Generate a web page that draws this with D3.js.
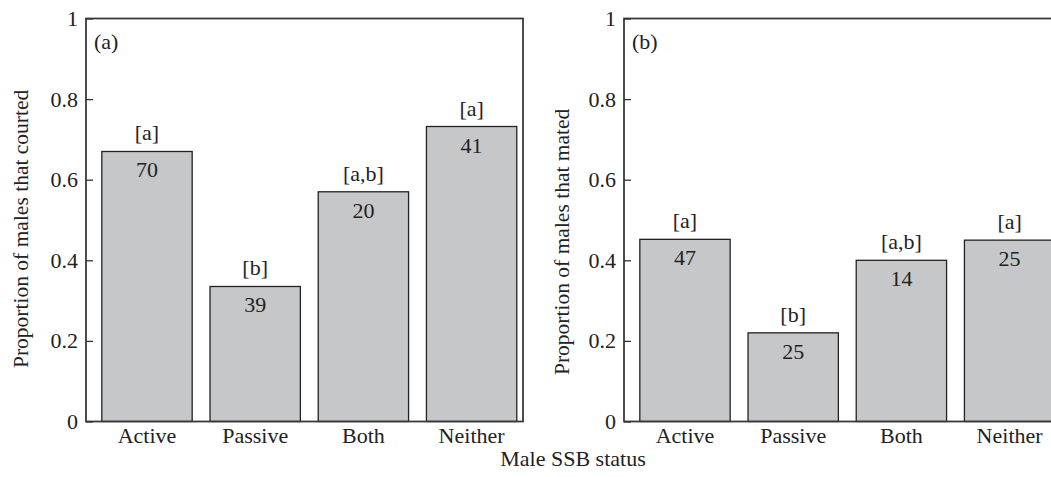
<!DOCTYPE html>
<html>
<head>
<meta charset="utf-8">
<script src="https://cdn.jsdelivr.net/npm/d3@7"></script>
<style>
  body { margin: 0; background: #fff; }
  svg { display: block; }
  text { font-family: "Liberation Serif", "DejaVu Serif", serif; fill: #222; }
</style>
</head>
<body>
<svg id="chart" width="1051" height="477"></svg>
<script>
// data
var categories = ["Active", "Passive", "Both", "Neither"];
var courted = [0.67, 0.335, 0.57, 0.732];
var courtedN = [70, 39, 20, 41];
var courtedGroups = ["[a]", "[b]", "[a,b]", "[a]"];
var mated = [0.452, 0.22, 0.40, 0.45];
var matedN = [47, 25, 14, 25];
var matedGroups = ["[a]", "[b]", "[a,b]", "[a]"];
var yTicks = [0, 0.2, 0.4, 0.6, 0.8, 1];
var yTickLabels = ["0", "0.2", "0.4", "0.6", "0.8", "1"];

var svg = d3.select("#chart");
var fs = 22;

function panel(axisX, values, counts, groups, tag, title, titleX, titleStart) {
  var w = 437;
  var y = d3.scaleLinear().domain([0, 1]).range([421.5, 18.5]);
  var x = d3.scaleBand()
    .domain(categories)
    .range([axisX + 5, axisX + 441.6])
    .paddingInner(0.165)
    .paddingOuter(0.1);

  var g = svg.append("g");

  // bars
  g.selectAll("rect.bar")
    .data(categories)
    .enter().append("rect")
    .attr("class", "bar")
    .attr("x", function(d) { return x(d); })
    .attr("width", x.bandwidth())
    .attr("y", function(d, i) { return y(values[i]); })
    .attr("height", function(d, i) { return y(0) - y(values[i]); })
    .attr("fill", "#c6c7c9")
    .attr("stroke", "#222")
    .attr("stroke-width", 1.3);

  // frame
  g.append("rect")
    .attr("x", axisX).attr("y", y(1))
    .attr("width", w).attr("height", y(0) - y(1))
    .attr("fill", "none")
    .attr("stroke", "#3a3a3a")
    .attr("stroke-width", 1.8);

  // y axis, ticks pointing inward
  var yAxis = d3.axisLeft(y)
    .tickValues(yTicks)
    .tickSize(-7)
    .tickPadding(8)
    .tickFormat(function(d, i) { return yTickLabels[i]; });
  var ya = g.append("g").attr("transform", "translate(" + axisX + ",0)").call(yAxis);
  ya.select(".domain").remove();
  ya.selectAll("line").attr("stroke", "#333").attr("stroke-width", 1.3);
  ya.selectAll("text")
    .style("font-family", '"Liberation Serif", serif')
    .style("font-size", fs + "px").attr("fill", "#222");

  // x axis labels
  var xAxis = d3.axisBottom(x).tickSize(0).tickPadding(6);
  var xa = g.append("g").attr("transform", "translate(0," + y(0) + ")").call(xAxis);
  xa.select(".domain").remove();
  xa.selectAll("text")
    .style("font-family", '"Liberation Serif", serif')
    .style("font-size", fs + "px").attr("fill", "#222");

  // sample sizes inside bars
  g.selectAll("text.n")
    .data(categories)
    .enter().append("text")
    .attr("class", "n")
    .attr("x", function(d) { return x(d) + x.bandwidth() / 2; })
    .attr("y", function(d, i) { return y(values[i]) + 26; })
    .attr("text-anchor", "middle")
    .style("font-size", fs + "px")
    .text(function(d, i) { return counts[i]; });

  // significance groups above bars
  g.selectAll("text.grp")
    .data(categories)
    .enter().append("text")
    .attr("class", "grp")
    .attr("x", function(d) { return x(d) + x.bandwidth() / 2; })
    .attr("y", function(d, i) { return y(values[i]) - 11; })
    .attr("text-anchor", "middle")
    .style("font-size", fs + "px")
    .text(function(d, i) { return groups[i]; });

  // panel tag
  g.append("text")
    .attr("x", axisX + 8).attr("y", y(1) + 30)
    .style("font-size", fs + "px")
    .text(tag);

  // y title
  g.append("text")
    .attr("transform", "translate(" + titleX + "," + titleStart + ") rotate(-90)")
    .attr("text-anchor", "start")
    .style("font-size", "21.5px")
    .text(title);
}

panel(86, courted, courtedN, courtedGroups, "(a)", "Proportion of males that courted", 28, 368);
panel(624, mated, matedN, matedGroups, "(b)", "Proportion of males that mated", 569, 375);

svg.append("text")
  .attr("x", 573).attr("y", 466)
  .attr("text-anchor", "middle")
  .style("font-size", fs + "px")
  .text("Male SSB status");
</script>
</body>
</html>
